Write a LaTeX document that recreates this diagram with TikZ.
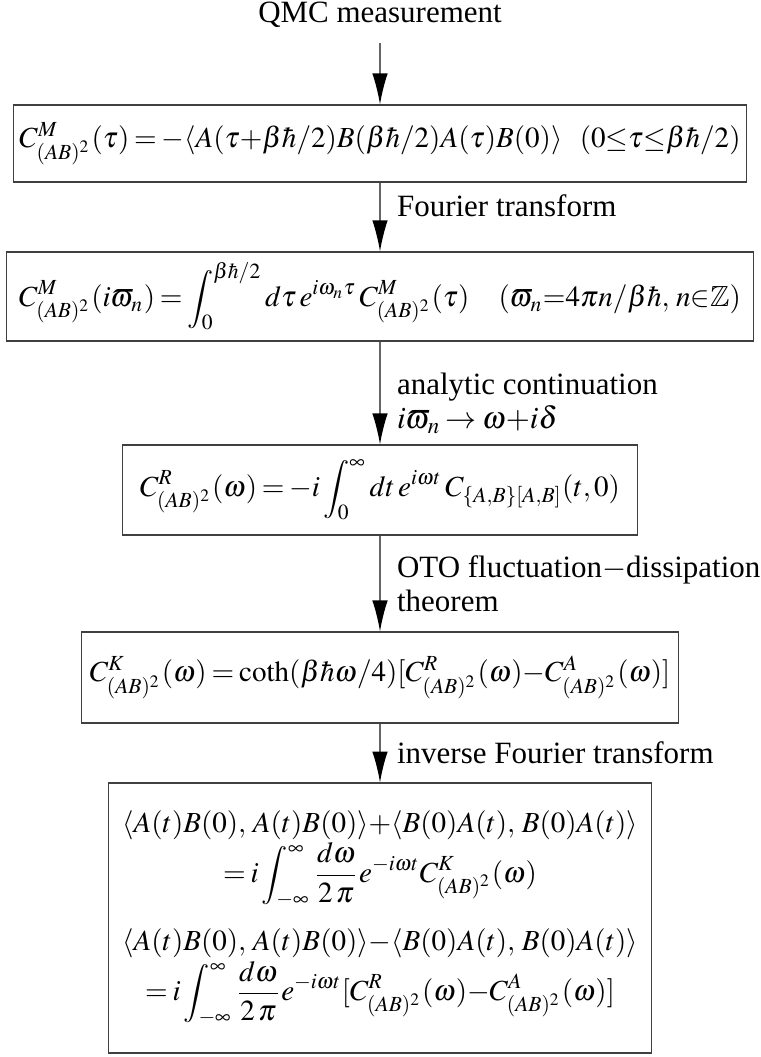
\documentclass[tikz,border=0pt]{standalone}
\usepackage{amsmath,amssymb}
\usepackage{mathptmx}
\usepackage{fontspec}
\setmainfont{Liberation Serif}
\usetikzlibrary{arrows.meta}

\newcommand{\Cab}[1]{C^{#1}_{(AB)^2}}
\thinmuskip=2mu
\medmuskip=1.5mu
\thickmuskip=3mu

\begin{document}
\begin{tikzpicture}[
  eqbox/.style={draw=black!75, rectangle, inner sep=0pt, font=\fontsize{9.4pt}{11.3pt}\selectfont},
  flow/.style={draw=black!60, -{Latex[length=10pt,width=5pt,black]}},
  steplabel/.style={anchor=west, xshift=2pt, align=left}
]
\useasboundingbox (0,0) rectangle (8.637,-11.997);
\node[anchor=base] (qmc) at (4.313,-0.25) {QMC measurement};
\node[eqbox, minimum width=8.32cm, minimum height=0.874cm] (imagtime) at (4.313,-1.629)
  {$\Cab{M}(\tau) = -\langle A(\tau{+}\beta\hbar/2)B(\beta\hbar/2)A(\tau)B(0)\rangle\hspace{0.6em}(0{\le}\tau{\le}\beta\hbar/2)$};
\node[eqbox, minimum width=8.478cm, minimum height=1.01cm] (matsubara) at (4.313,-3.365)
  {$\displaystyle \Cab{M}(i\varpi_n) = \int_0^{\beta\hbar/2} d\tau\, e^{i\omega_n\tau}\,\Cab{M}(\tau)\quad (\varpi_n{=}4\pi n/\beta\hbar,\, n{\in}\mathbb{Z})$};
\node[eqbox, minimum width=5.845cm, minimum height=1.022cm] (retarded) at (4.313,-5.562)
  {$\displaystyle \Cab{R}(\omega) = -i\int_0^\infty dt\, e^{i\omega t}\, C_{\{A,B\}[A,B]}(t,0)$};
\node[eqbox, minimum width=6.776cm, minimum height=1.033cm] (keldysh) at (4.313,-7.690)
  {$\Cab{K}(\omega) = \coth(\beta\hbar\omega/4)[\Cab{R}(\omega){-}\Cab{A}(\omega)]$};
\node[eqbox, minimum width=6.163cm, minimum height=3.064cm, align=center] (realtime) at (4.313,-10.42)
  {$\langle A(t)B(0),\, A(t)B(0)\rangle{+}\langle B(0)A(t),\, B(0)A(t)\rangle$\\
   $\displaystyle = i\int_{-\infty}^{\infty}\frac{d\omega}{2\,\pi}e^{-i\omega t}\Cab{K}(\omega)$\\[6pt]
   $\langle A(t)B(0),\, A(t)B(0)\rangle{-}\langle B(0)A(t),\, B(0)A(t)\rangle$\\
   $\displaystyle = i\int_{-\infty}^{\infty}\frac{d\omega}{2\,\pi}e^{-i\omega t}[\Cab{R}(\omega){-}\Cab{A}(\omega)]$};

\draw[flow, shorten <=1.5pt] (qmc) -- (imagtime);
\draw[flow] (imagtime) -- node[steplabel, pos=0.33] {Fourier transform} (matsubara);
\draw[flow] (matsubara) -- node[steplabel, pos=0.6] {analytic continuation\\[-1pt]$i\varpi_n \to \omega{+}i\delta$} (retarded);
\draw[flow] (retarded) -- node[steplabel] {OTO fluctuation$-$dissipation\\[-1pt]theorem} (keldysh);
\draw[flow] (keldysh) -- node[steplabel] {inverse Fourier transform} (realtime);
\end{tikzpicture}
\end{document}
